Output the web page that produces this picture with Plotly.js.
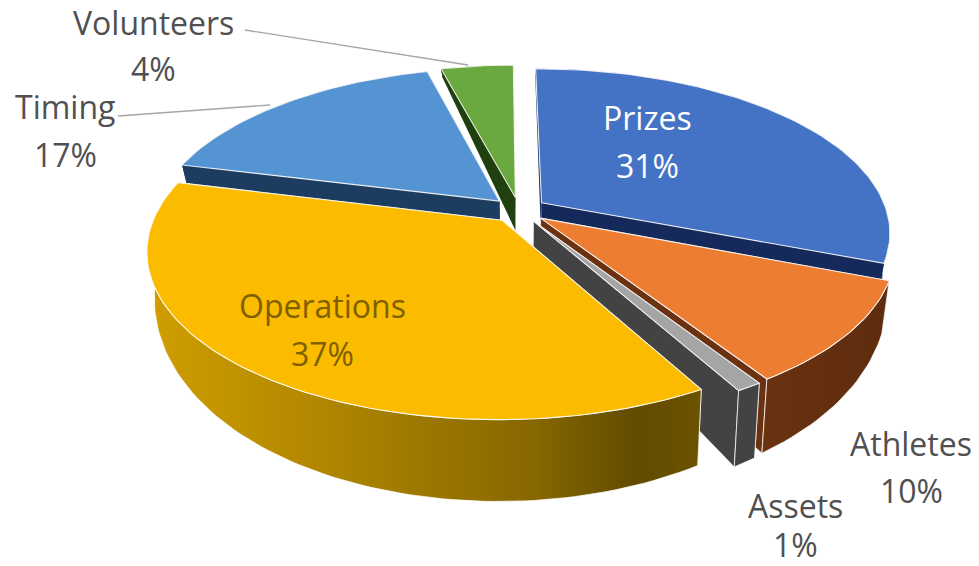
<!DOCTYPE html>
<html>
<head>
<meta charset="utf-8">
<script src="https://cdn.plot.ly/plotly-3.0.1.min.js"></script>
<style>html,body{margin:0;padding:0;background:#fff}#chart{width:979px;height:566px}</style>
</head>
<body>
<div id="chart"></div>
<script>
// Data
var categories = ["Prizes", "Athletes", "Assets", "Operations", "Timing", "Volunteers"];
var shares = [31, 10, 1, 37, 17, 4];

// Colours per slice
var topColors  = ["#4472c4", "#ed7d31", "#a5a5a5", "#fbbc00", "#5494d3", "#6aa93f"];
var sideColors = ["#15295a", "#6b3212", "#434343", "#8a6a00", "#1c3d60", "#21400f"];
var labelColors = ["#ffffff", "#505050", "#505050", "#7f6000", "#505050", "#505050"];

// Back-to-front painting order
var paintOrder = ["Volunteers", "Timing", "Prizes", "Athletes", "Assets", "Operations"];

// Fake-3D view of the disc
var view = {cx: 519, cy: 210, sx: 345, sy: 160, k: 0.177, explode: 0.08, startDeg: -0.5};

function depth(v) { return v < 0 ? 35 + 25 * v : 35 + 44 * v; }
function project(u, v) {
  var w = 1 - view.k * v;
  return [view.cx + view.sx * u / w, view.cy + view.sy * v / w];
}
function lower(u, v) {
  var p = project(u, v);
  return [view.cx + (p[0] - view.cx) * 0.98, p[1] + depth(v)];
}
function trace(pts, fill, lineColor, lineWidth, gradient) {
  var t = {
    type: "scatter", mode: "lines", hoverinfo: "skip", showlegend: false,
    x: pts.map(function (p) { return p[0]; }),
    y: pts.map(function (p) { return p[1]; }),
    fill: "toself", fillcolor: fill,
    line: {color: lineColor, width: lineWidth}
  };
  if (gradient) t.fillgradient = gradient;
  return t;
}

var total = shares.reduce(function (a, b) { return a + b; }, 0);
var start = view.startDeg * Math.PI / 180;
var slices = {}, run = 0;
shares.forEach(function (s, i) {
  var a0 = start + run / total * 2 * Math.PI;
  run += s;
  var a1 = start + run / total * 2 * Math.PI;
  var mid = (a0 + a1) / 2;
  slices[categories[i]] = {i: i, a0: a0, a1: a1, du: Math.sin(mid) * view.explode, dv: -Math.cos(mid) * view.explode, mv: -Math.cos(mid)};
});

var wallGradients = {
  "Operations": {type: "horizontal", colorscale: [[0, "#d09e00"], [0.35, "#ad8400"], [0.7, "#866700"], [0.88, "#624b00"], [1, "#6b5200"]]},
  "Athletes": {type: "horizontal", colorscale: [[0, "#6a3210"], [1, "#5e2c0e"]]}
};

var traces = [];
paintOrder.forEach(function (name) {
  var sl = slices[name];
  var rim = [], n = Math.max(6, Math.round((sl.a1 - sl.a0) * 40));
  for (var j = 0; j <= n; j++) {
    var a = sl.a0 + (sl.a1 - sl.a0) * j / n;
    rim.push([Math.sin(a) + sl.du, -Math.cos(a) + sl.dv]);
  }
  var apex = [sl.du, sl.dv];
  var first = rim[0], last = rim[rim.length - 1];
  function top(q) { return project(q[0], q[1]); }
  function bot(q) { return lower(q[0], q[1]); }
  var side = sideColors[sl.i];
  var front = sl.mv > 0;
  var edge = front ? "rgba(255,255,255,0.75)" : "rgba(255,255,255,0)";
  var edgeW = front ? 1 : 0;
  // radial cut faces
  traces.push(trace([top(apex), top(first), bot(first), bot(apex), top(apex)], side, edge, edgeW));
  traces.push(trace([top(apex), top(last), bot(last), bot(apex), top(apex)], side, edge, edgeW));
  // outer wall
  var wall = rim.map(top).concat(rim.slice().reverse().map(bot));
  wall.push(wall[0]);
  traces.push(trace(wall, side, edge, edgeW, wallGradients[name]));
  // top face
  var face = [top(apex)].concat(rim.map(top));
  face.push(top(apex));
  traces.push(trace(face, topColors[sl.i], "rgba(255,255,255,0.85)", 1.1));
});

// Label anchor positions (name line y, share line y)
var labelX = [647, 911, 795, 322, 65, 153];
var nameY  = [117, 443, 505, 305, 106, 22];
var shareY = [165, 490, 544, 353, 154, 68];
var annotations = [];
categories.forEach(function (c, i) {
  var f = {family: "Open Sans, Noto Sans, sans-serif", size: 32, color: labelColors[i]};
  annotations.push({x: labelX[i], y: nameY[i], xref: "x", yref: "y", text: c, showarrow: false, font: f});
  annotations.push({x: labelX[i], y: shareY[i], xref: "x", yref: "y", text: shares[i] + "%", showarrow: false, font: f});
});

var layout = {
  width: 979, height: 566,
  margin: {l: 0, r: 0, t: 0, b: 0},
  paper_bgcolor: "#ffffff", plot_bgcolor: "#ffffff",
  xaxis: {range: [0, 979], visible: false, fixedrange: true},
  yaxis: {range: [566, 0], visible: false, fixedrange: true},
  showlegend: false,
  annotations: annotations,
  shapes: [
    {type: "line", x0: 245, y0: 30, x1: 468, y1: 65, line: {color: "#a6a6a6", width: 1.3}},
    {type: "line", x0: 118, y0: 116, x1: 270, y1: 105, line: {color: "#a6a6a6", width: 1.3}}
  ]
};
Plotly.newPlot("chart", traces, layout, {displayModeBar: false, staticPlot: true});
</script>
</body>
</html>
